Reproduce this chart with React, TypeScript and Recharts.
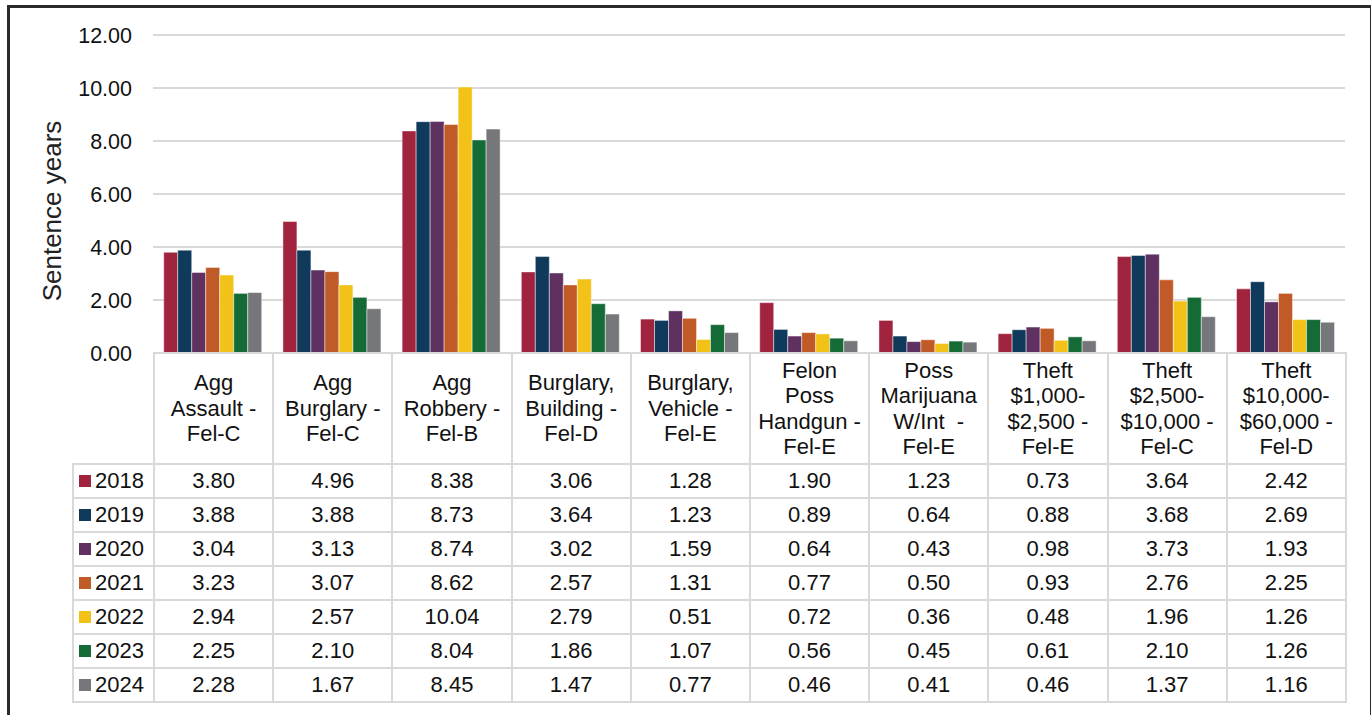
import { BarChart, Bar, XAxis, YAxis, CartesianGrid } from "recharts";

const categories = [
  "Agg\nAssault -\nFel-C",
  "Agg\nBurglary -\nFel-C",
  "Agg\nRobbery -\nFel-B",
  "Burglary,\nBuilding -\nFel-D",
  "Burglary,\nVehicle -\nFel-E",
  "Felon\nPoss\nHandgun -\nFel-E",
  "Poss\nMarijuana\nW/Int  -\nFel-E",
  "Theft\n$1,000-\n$2,500 -\nFel-E",
  "Theft\n$2,500-\n$10,000 -\nFel-C",
  "Theft\n$10,000-\n$60,000 -\nFel-D",
];

const years = ["2018", "2019", "2020", "2021", "2022", "2023", "2024"];

const y2018 = [3.8, 4.96, 8.38, 3.06, 1.28, 1.9, 1.23, 0.73, 3.64, 2.42];
const y2019 = [3.88, 3.88, 8.73, 3.64, 1.23, 0.89, 0.64, 0.88, 3.68, 2.69];
const y2020 = [3.04, 3.13, 8.74, 3.02, 1.59, 0.64, 0.43, 0.98, 3.73, 1.93];
const y2021 = [3.23, 3.07, 8.62, 2.57, 1.31, 0.77, 0.5, 0.93, 2.76, 2.25];
const y2022 = [2.94, 2.57, 10.04, 2.79, 0.51, 0.72, 0.36, 0.48, 1.96, 1.26];
const y2023 = [2.25, 2.1, 8.04, 1.86, 1.07, 0.56, 0.45, 0.61, 2.1, 1.26];
const y2024 = [2.28, 1.67, 8.45, 1.47, 0.77, 0.46, 0.41, 0.46, 1.37, 1.16];

const yTicks = [0, 2, 4, 6, 8, 10, 12];

const colors = ["#a1243f", "#0f3a5c", "#5e3160", "#c05a26", "#f2c218", "#146b36", "#76777a"];

const series = [y2018, y2019, y2020, y2021, y2022, y2023, y2024];

const FONT = '"Liberation Sans", Arial, sans-serif';
const GRID = "#d9d9d9";

const PLOT_LEFT = 153;
const PLOT_RIGHT = 1345;
const LEGEND_W = 81;

function YLabel() {
  return (
    <text
      x={61}
      y={211}
      transform="rotate(-90, 61, 211)"
      textAnchor="middle"
      fontSize={26}
      fontFamily={FONT}
      fill="#222"
    >
      Sentence years
    </text>
  );
}

export default function App() {
  const data = categories.map((c, i) => {
    const row: Record<string, number | string> = { name: c };
    years.forEach((y, k) => {
      row[y] = series[k][i];
    });
    return row;
  });

  const colW = (PLOT_RIGHT - PLOT_LEFT) / categories.length;
  const cellBorder = `2px solid ${GRID}`;

  return (
    <div style={{ position: "relative", width: 1371, height: 715, background: "#fff", fontFamily: FONT, overflow: "hidden" }}>
      <style>{`body{margin:0}`}</style>
      <div
        style={{
          position: "absolute",
          left: 7,
          top: 5,
          width: 1360,
          height: 760,
          borderTop: "3px solid #2a2a2a",
          borderLeft: "3px solid #2a2a2a",
          borderRight: "2px solid #2a2a2a",
        }}
      />
      <div style={{ position: "absolute", left: 0, top: 0 }}>
        <BarChart
          width={1371}
          height={372}
          data={data}
          margin={{ top: 35, right: 1371 - PLOT_RIGHT, left: 0, bottom: 19 }}
          barCategoryGap="9%"
          barGap={0}
        >
          <CartesianGrid vertical={false} stroke={GRID} strokeWidth={2} />
          <XAxis dataKey="name" hide />
          <YAxis
            width={PLOT_LEFT}
            domain={[0, 12]}
            ticks={yTicks}
            interval={0}
            axisLine={false}
            tickLine={false}
            tickSize={0}
            tickMargin={21}
            tickFormatter={(v: number) => v.toFixed(2)}
            tick={{ fill: "#111", fontSize: 21.5, fontFamily: FONT }}
            label={<YLabel />}
          />
          {years.map((y, k) => (
            <Bar
              key={y}
              dataKey={y}
              fill={colors[k]}
              stroke="rgba(255,255,255,0.45)"
              strokeWidth={1}
              isAnimationActive={false}
            />
          ))}
        </BarChart>
      </div>
      <table
        style={{
          position: "absolute",
          left: PLOT_LEFT - LEGEND_W,
          top: 352,
          borderCollapse: "collapse",
          tableLayout: "fixed",
          width: LEGEND_W + colW * categories.length,
          fontSize: 22,
          color: "#111",
        }}
      >
        <colgroup>
          <col style={{ width: LEGEND_W }} />
          {categories.map((c) => (
            <col key={c} style={{ width: colW }} />
          ))}
        </colgroup>
        <tbody>
          <tr style={{ height: 111 }}>
            <td style={{ border: "none" }} />
            {categories.map((c) => (
              <td
                key={c}
                style={{
                  border: cellBorder,
                  textAlign: "center",
                  verticalAlign: "middle",
                  lineHeight: "25.5px",
                  padding: 0,
                  whiteSpace: "pre",
                }}
              >
                {c}
              </td>
            ))}
          </tr>
          {years.map((y, k) => (
            <tr key={y} style={{ height: 34 }}>
              <td style={{ border: cellBorder, padding: "0 0 0 5px", whiteSpace: "nowrap", lineHeight: "30px" }}>
                <span
                  style={{
                    display: "inline-block",
                    width: 12,
                    height: 12,
                    background: colors[k],
                    marginRight: 4,
                    verticalAlign: "middle",
                    position: "relative",
                    top: -1,
                  }}
                />
                <span style={{ verticalAlign: "middle" }}>{y}</span>
              </td>
              {series[k].map((v, i) => (
                <td key={i} style={{ border: cellBorder, textAlign: "center", padding: 0, lineHeight: "30px" }}>
                  {v.toFixed(2)}
                </td>
              ))}
            </tr>
          ))}
        </tbody>
      </table>
    </div>
  );
}
